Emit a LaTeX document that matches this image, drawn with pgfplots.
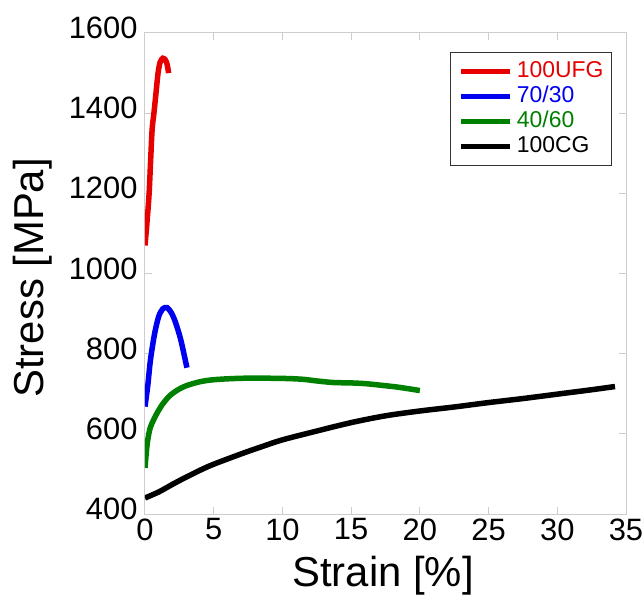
\documentclass[border=0pt]{standalone}
\usepackage{pgfplots}
\pgfplotsset{compat=1.18}
\usepackage{fontspec}
\setmainfont{Liberation Sans}
\definecolor{axgray}{RGB}{205,205,205}
\definecolor{cred}{RGB}{230,0,0}
\definecolor{cblue}{RGB}{0,0,240}
\definecolor{cgreen}{RGB}{0,128,0}
\begin{document}
\begin{tikzpicture}
\begin{axis}[
  scale only axis,
  width=481bp, height=481bp,
  xmin=0, xmax=35, ymin=400, ymax=1600,
  xtick={0,5,...,35}, ytick={400,600,...,1600},
  /pgf/number format/assume math mode=true,
  /pgf/number format/1000 sep={},
  tick label style={font=\fontsize{31}{31}\selectfont},
  yticklabel style={xshift=-4bp, yshift=5bp},
  xticklabel style={yshift=-1bp},
  axis line style={axgray, line width=1bp},
  tick style={axgray, line width=1bp},
  major tick length=7bp,
  tick align=inside,
  xlabel={Strain [\%]},
  ylabel={Stress [MPa]},
  label style={font=\fontsize{42}{42}\selectfont},
  xlabel style={at={(axis description cs:0.495,-0.129)}, anchor=center},
  ylabel style={at={(axis description cs:-0.233,0.491)}, anchor=center},
  legend style={at={(axis description cs:0.971,0.9605)}, anchor=north east,
    draw=black!80, line width=1bp, inner sep=8bp,
    font=\fontsize{23}{23}\selectfont,
    nodes={inner sep=0pt, text height=17bp, text depth=5bp},
    row sep=3bp,
    /tikz/every odd column/.append style={column sep=5bp}},
  legend cell align=left,
  legend image code/.code={\draw[#1, line width=4.5bp] (0bp,0bp) -- (49bp,0bp);},
  every axis plot/.append style={line width=5.5bp, smooth, tension=0.5},
]
\addplot[cred] coordinates {
(0,1070) (0.15,1130) (0.3,1200) (0.42,1290) (0.52,1360) (0.65,1400) (0.8,1450)
(0.95,1500) (1.1,1527) (1.3,1537) (1.5,1532) (1.62,1520) (1.72,1500)};
\addlegendentry{\textcolor{cred}{100UFG}}
\addplot[cblue] coordinates {
(0,668) (0.2,720) (0.4,785) (0.7,850) (1.0,893) (1.3,912) (1.6,915)
(1.9,903) (2.2,880) (2.6,835) (3.05,765)};
\addlegendentry{\textcolor{cblue}{70/30}}
\addplot[cgreen] coordinates {
(0,515) (0.1,555) (0.2,585) (0.4,617) (0.85,650) (1.3,675) (1.8,695) (2.4,710)
(3,720) (4,730) (5,735) (6.5,738) (8,739) (10.3,738) (11.5,736) (12.5,732)
(13.7,728) (15,727) (16.1,725) (17.5,720) (18.5,716) (20,708)};
\addlegendentry{\textcolor{cgreen}{40/60}}
\addplot[black] coordinates {
(0,440) (1,455) (2,474) (3,492) (4.7,520) (7,550) (8.5,568) (10,585) (12.5,607)
(15,628) (17.5,645) (20,657) (22.5,667) (25,678) (27.5,688) (30,699) (32.5,710) (34.2,718)};
\addlegendentry{100CG}
\end{axis}
\pgfresetboundingbox
\path[use as bounding box] (current axis.south west) ++(-145bp,-84bp) rectangle ++(643bp,598bp);
\end{tikzpicture}
\end{document}
